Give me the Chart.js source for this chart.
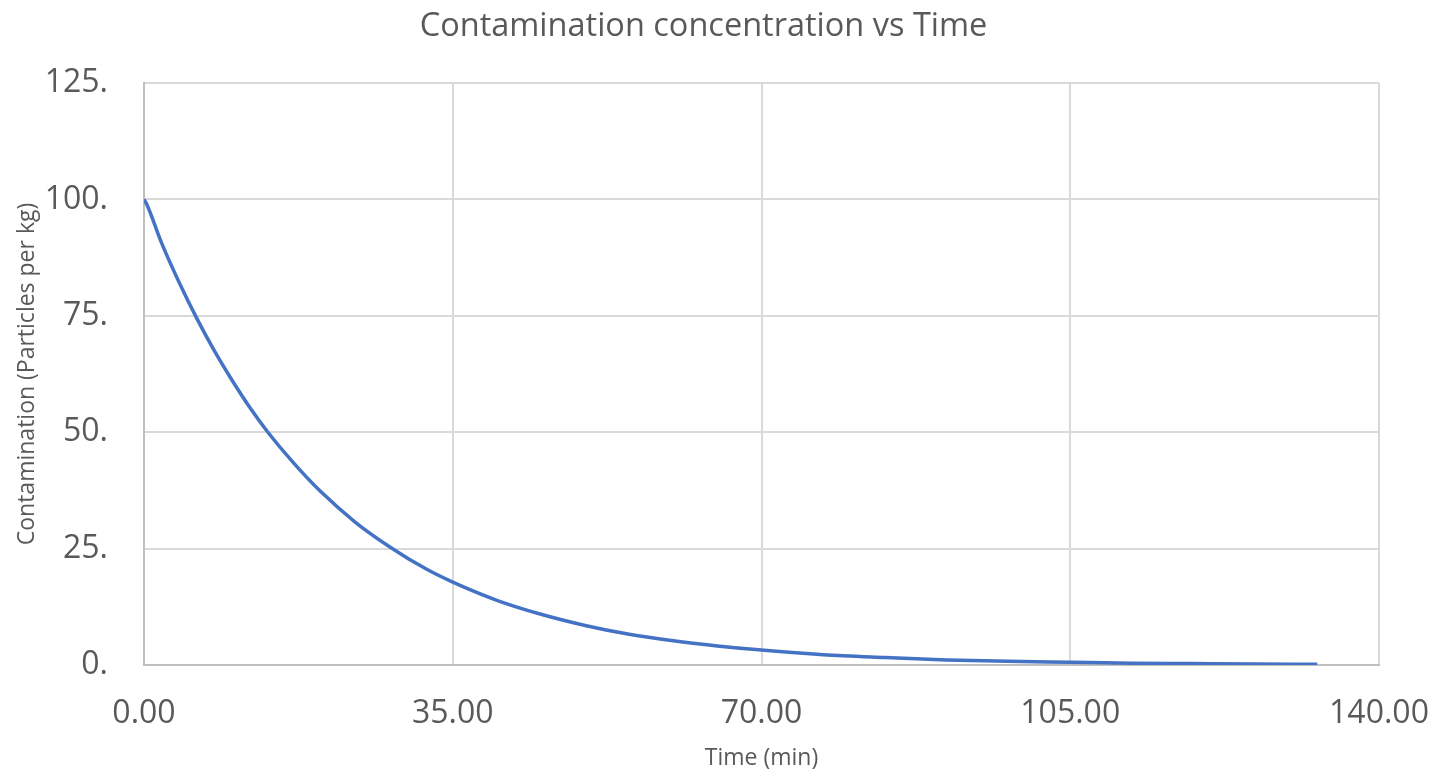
<!DOCTYPE html>
<html>
<head>
<meta charset="utf-8">
<script src="https://cdn.jsdelivr.net/npm/chart.js@4/dist/chart.umd.min.js"></script>
<style>
  body { margin: 0; background: #fff; }
</style>
</head>
<body>
<canvas id="contamChart" width="1435" height="772"></canvas>
<script>
// time (min) and measured contamination (particles per kg)
const tempos = [0, 0.3, 2, 4, 6, 8, 10, 12, 14, 17, 20, 24, 28, 32, 35, 40, 45, 50, 55, 60, 65, 70, 77, 84, 91, 98, 105, 112, 119, 126, 133];
const contaminacao = [100, 99.0, 90.6, 82.1, 74.4, 67.4, 61.1, 55.3, 50.1, 43.3, 37.3, 30.6, 25.2, 20.6, 17.8, 13.9, 10.9, 8.5, 6.6, 5.2, 4.1, 3.2, 2.2, 1.6, 1.1, 0.8, 0.6, 0.4, 0.3, 0.2, 0.15];
const ticksX = [0, 35, 70, 105, 140];
const ticksY = [0, 25, 50, 75, 100, 125];

const fonte = '"Open Sans", "Noto Sans", sans-serif';
const cinza = '#595959';

function renderChart() {
    const pontos = tempos.map((t, i) => ({ x: t, y: contaminacao[i] }));
    const ctx = document.getElementById('contamChart').getContext('2d');
    new Chart(ctx, {
        type: 'scatter',
        data: {
            datasets: [{
                label: 'Contamination',
                data: pontos,
                showLine: true,
                borderColor: '#4472C4',
                borderWidth: 3.5,
                pointRadius: 0,
                cubicInterpolationMode: 'monotone',
                fill: false
            }]
        },
        options: {
            responsive: false,
            animation: false,
            layout: { padding: { left: 0, right: 28, top: 0, bottom: 0 } },
            plugins: {
                legend: { display: false },
                tooltip: { enabled: false },
                title: {
                    display: true,
                    text: 'Contamination concentration vs Time',
                    color: cinza,
                    font: { family: fonte, size: 32.5, weight: 'normal' },
                    padding: { top: 7, bottom: 37 }
                }
            },
            scales: {
                x: {
                    type: 'linear',
                    min: 0,
                    max: 140,
                    afterBuildTicks: (axis) => { axis.ticks = ticksX.map(v => ({ value: v })); },
                    afterFit: (scale) => {
                        scale.height = 107;
                        // room on the right for the last label, plot width stays fixed
                        scale.paddingLeft = 0;
                        scale.paddingRight = 56;
                    },
                    grid: { color: '#d9d9d9', lineWidth: 2, drawTicks: false },
                    border: { color: '#bfbfbf', width: 2 },
                    ticks: {
                        color: cinza,
                        padding: 30,
                        maxRotation: 0,
                        font: { family: fonte, size: 32 },
                        callback: (v) => v.toFixed(2)
                    },
                    title: {
                        display: true,
                        text: 'Time (min)',
                        color: cinza,
                        font: { family: fonte, size: 23 },
                        padding: { top: 0, bottom: 0 }
                    }
                },
                y: {
                    min: 0,
                    max: 125,
                    afterBuildTicks: (axis) => { axis.ticks = ticksY.map(v => ({ value: v })); },
                    afterFit: (scale) => { scale.width = 144; },
                    grid: { color: '#d9d9d9', lineWidth: 2, drawTicks: false },
                    border: { color: '#bfbfbf', width: 2 },
                    ticks: {
                        color: cinza,
                        padding: 36,
                        font: { family: fonte, size: 32 },
                        callback: (v) => v + '.'
                    },
                    title: {
                        display: true,
                        text: 'Contamination (Particles per kg)',
                        color: cinza,
                        font: { family: fonte, size: 23 },
                        padding: { top: 14, bottom: 0 }
                    }
                }
            }
        }
    });
}

renderChart();
</script>
</body>
</html>
